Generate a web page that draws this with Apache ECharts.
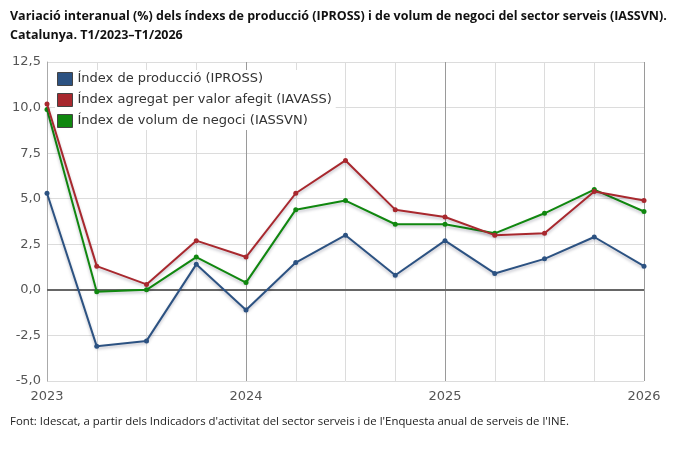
<!DOCTYPE html>
<html>
<head>
<meta charset="utf-8">
<script src="https://cdn.jsdelivr.net/npm/echarts@6/dist/echarts.min.js"></script>
<style>
  html, body { margin: 0; padding: 0; background: #fff; }
  #chart { width: 680px; height: 452px; }
</style>
</head>
<body>
<div id="chart"></div>
<script>
// trimestres T1/2023 - T1/2026
var quarters = ['T1/2023','T2/2023','T3/2023','T4/2023','T1/2024','T2/2024','T3/2024','T4/2024','T1/2025','T2/2025','T3/2025','T4/2025','T1/2026'];
var yearLabels = {0: '2023', 4: '2024', 8: '2025', 12: '2026'};

var ipross = [5.3, -3.1, -2.8, 1.4, -1.1, 1.5, 3.0, 0.8, 2.7, 0.9, 1.7, 2.9, 1.3];
var iavass = [10.2, 1.3, 0.3, 2.7, 1.8, 5.3, 7.1, 4.4, 4.0, 3.0, 3.1, 5.4, 4.9];
var iassvn = [9.9, -0.1, 0.0, 1.8, 0.4, 4.4, 4.9, 3.6, 3.6, 3.1, 4.2, 5.5, 4.3];

var names = ['Índex de producció (IPROSS)', 'Índex agregat per valor afegit (IAVASS)', 'Índex de volum de negoci (IASSVN)'];
var colors = ['#2c5282', '#a8282e', '#10870f'];

var myChart = echarts.init(document.getElementById('chart'));

function serie(i, values) {
    return {
        name: names[i],
        type: 'line',
        data: values,
        symbol: 'circle',
        symbolSize: 5,
        itemStyle: { color: colors[i] },
        lineStyle: {
            width: 2,
            color: colors[i],
            shadowColor: 'rgba(0,0,40,0.25)',
            shadowBlur: 3,
            shadowOffsetY: 2
        },
        z: 5 - i
    };
}

var series = [serie(0, ipross), serie(1, iavass), serie(2, iassvn)];
// línia del zero
series[0].markLine = {
    silent: true,
    symbol: ['none', 'none'],
    label: { show: false },
    lineStyle: { color: '#666', width: 2, type: 'solid' },
    data: [{ yAxis: 0 }],
    z: 1
};

var option = {
    animation: false,
    color: colors,
    textStyle: { fontFamily: 'DejaVu Sans' },
    graphic: [
        {
            type: 'text', left: 10, top: 7,
            style: {
                text: 'Variació interanual (%) dels índexs de producció (IPROSS) i de volum de negoci del sector serveis (IASSVN).\nCatalunya. T1/2023–T1/2026',
                font: 'bold 12.5px "Open Sans"',
                fill: '#111',
                lineHeight: 19
            }
        },
        {
            type: 'text', left: 10, top: 416,
            style: {
                text: "Font: Idescat, a partir dels Indicadors d'activitat del sector serveis i de l'Enquesta anual de serveis de l'INE.",
                font: '11.4px "Open Sans"',
                fill: '#222'
            }
        }
    ],
    legend: {
        orient: 'vertical',
        left: 55,
        top: 70,
        itemWidth: 15,
        itemHeight: 13,
        itemGap: 7,
        icon: 'rect',
        backgroundColor: '#fff',
        padding: [2, 4, 2, 2],
        textStyle: { fontFamily: 'DejaVu Sans', fontSize: 13, color: '#333' },
        itemStyle: { borderColor: '#444', borderWidth: 1 },
        data: names
    },
    grid: { left: 47, right: 36, top: 62, bottom: 71 },
    xAxis: {
        type: 'category',
        data: quarters,
        boundaryGap: false,
        axisLine: { show: false },
        axisTick: { show: false },
        axisLabel: {
            interval: 0,
            color: '#555',
            fontSize: 13,
            margin: 9,
            formatter: function (v, idx) { return yearLabels[idx] || ''; }
        },
        splitLine: {
            show: true,
            interval: 0,
            lineStyle: { color: ['#9a9a9a', '#dcdcdc', '#dcdcdc', '#dcdcdc'], width: 1 }
        }
    },
    yAxis: {
        type: 'value',
        min: -5,
        max: 12.5,
        interval: 2.5,
        axisLine: { show: true, lineStyle: { color: '#aaa' } },
        axisTick: { show: false },
        axisLabel: {
            color: '#555',
            fontSize: 13,
            margin: 6,
            formatter: function (v) { return v.toFixed(1).replace('.', ','); }
        },
        splitLine: { lineStyle: { color: '#dcdcdc', width: 1 } }
    },
    series: series
};

myChart.setOption(option);
</script>
</body>
</html>
